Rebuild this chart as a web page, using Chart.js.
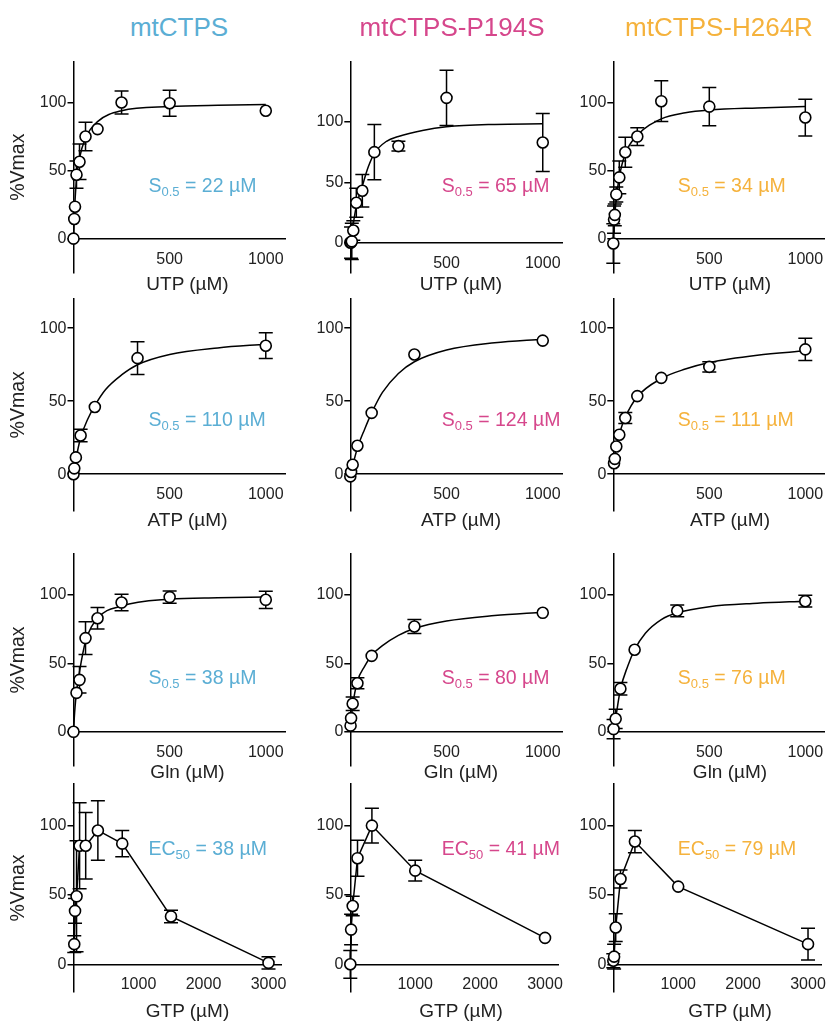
<!DOCTYPE html>
<html><head><meta charset="utf-8">
<script src="https://cdn.jsdelivr.net/npm/chart.js@4.4.1/dist/chart.umd.min.js"></script>
<style>
html,body{margin:0;padding:0;background:#fff;overflow:hidden;}
#wrap{position:relative;width:828px;height:1024px;overflow:hidden;font-family:'Liberation Sans',Arial,sans-serif;}
#wrap canvas{position:absolute;}
.ttl{position:absolute;font-size:26px;line-height:30px;white-space:nowrap;transform:translateX(-50%);}
.xt{position:absolute;font-size:19px;line-height:24px;white-space:nowrap;transform:translateX(-50%);color:#222;}
.ann{position:absolute;font-size:19.5px;line-height:24px;white-space:nowrap;}
.ann .sb{font-size:13px;position:relative;top:4px;}
</style></head><body><div id="wrap"></div>
<script>
// ---------- text ----------
const columnTitles = ['mtCTPS', 'mtCTPS-P194S', 'mtCTPS-H264R'];
const columnColors = ['#5BAED4', '#D6478C', '#F5B23C'];
const xAxisTitles = ['UTP (µM)', 'ATP (µM)', 'Gln (µM)', 'GTP (µM)'];
const yAxisTitle = '%Vmax';
const yTickValues = [0, 50, 100];
const xTicksSat = [500, 1000];
const xTicksGtp = [1000, 2000, 3000];
const annotMain = [['S', 'S', 'S'], ['S', 'S', 'S'], ['S', 'S', 'S'], ['EC', 'EC', 'EC']];
const annotSub = [['0.5', '0.5', '0.5'], ['0.5', '0.5', '0.5'], ['0.5', '0.5', '0.5'], ['50', '50', '50']];
const annotValue = [[22, 65, 34], [110, 124, 111], [38, 80, 76], [38, 41, 79]];

// ---------- data: UTP ----------
const utpWtX = [0, 3.9, 7.8, 15.6, 31.25, 62.5, 125, 250, 500, 1000];
const utpWtY = [0, 14.5, 23.5, 47, 56.5, 75, 80.5, 100, 99.5, 94];
const utpWtErr = [0, 0, 0, 10, 13, 10.5, 0, 8.5, 9.5, 0];
const utpWtFitX = [0, 4, 8, 16, 31, 62.5, 125, 250, 500, 750, 1000];
const utpWtFitY = [0, 16, 28, 44, 59, 74, 86, 94, 97, 98, 98.5];

const utpP194X = [0, 3.9, 7.8, 15.6, 31.25, 62.5, 125, 250, 500, 1000];
const utpP194Y = [0, 0, 1, 10, 33, 43, 75, 80, 120, 83];
const utpP194Err = [0, 13, 15, 8, 12, 13.5, 23, 4, 23, 24];
const utpP194FitX = [0, 8, 16, 31, 62.5, 94, 125, 188, 250, 375, 500, 750, 1000];
const utpP194FitY = [0, 7, 16, 30, 47, 63, 74, 84, 88, 93, 96, 98, 98.5];

const utpH264X = [0, 3.9, 7.8, 15.6, 31.25, 62.5, 125, 250, 500, 1000];
const utpH264Y = [-3.5, 14, 17.5, 32.5, 45, 63.5, 75, 101, 97, 89];
const utpH264Err = [14.5, 10, 8, 5.5, 12, 11, 6.5, 15, 14, 13.5];
const utpH264FitX = [0, 4, 8, 16, 31, 62.5, 125, 250, 375, 500, 750, 1000];
const utpH264FitY = [0, 10, 18, 30, 45, 62.5, 76, 88, 92.5, 94.5, 96, 97];

// ---------- data: ATP ----------
const atpWtX = [0, 4.1, 12.3, 37, 111, 333, 1000];
const atpWtY = [0, 4, 11.5, 26.5, 46, 79.5, 88];
const atpWtErr = [0, 0, 0, 4.3, 0, 11.2, 8.8];
const atpWtFitX = [0, 12.3, 37, 75, 111, 167, 250, 333, 500, 750, 1000];
const atpWtFitY = [0, 10, 25, 38, 47, 58, 68, 75, 82, 86.5, 89];

const atpP194X = [0, 4.1, 12.3, 37, 111, 333, 1000];
const atpP194Y = [-1.5, 1.5, 6.5, 19.5, 42, 82, 91.5];
const atpP194Err = [0, 0, 0, 0, 0, 0, 0];
const atpP194FitX = [0, 12.3, 37, 75, 111, 167, 250, 333, 500, 750, 1000];
const atpP194FitY = [0, 6, 18, 31, 42, 56, 69, 77, 85, 90, 92.5];

const atpH264X = [3.9, 7.8, 15.6, 31.25, 62.5, 125, 250, 500, 1000];
const atpH264Y = [7.5, 10.5, 19, 27, 38.5, 53.5, 66, 73.5, 85.5];
const atpH264Err = [0, 0, 0, 0, 3.7, 0, 0, 3.5, 7.7];
const atpH264FitX = [3.9, 15.6, 31.25, 62.5, 125, 250, 375, 500, 750, 1000];
const atpH264FitY = [7, 19, 27.5, 39, 53, 65.5, 72, 76.5, 81.5, 84.5];

// ---------- data: Gln ----------
const glnWtX = [0, 15.6, 31.25, 62.5, 125, 250, 500, 1000];
const glnWtY = [0, 28.5, 38, 68.5, 83, 94.5, 98.5, 96.5];
const glnWtErr = [0, 0, 9.7, 12, 7.9, 6, 4.5, 6.3];
const glnWtFitX = [0, 4, 8, 15.6, 31.25, 62.5, 125, 250, 500, 750, 1000];
const glnWtFitY = [0, 10, 18, 29, 44, 66, 83, 92, 97, 98, 98.5];

const glnP194X = [1.4, 4.1, 12.3, 37, 111, 333, 1000];
const glnP194Y = [4.5, 10, 20.5, 35.5, 55.5, 77, 87];
const glnP194Err = [0, 0, 5, 4, 0, 5.2, 0];
const glnP194FitX = [1.4, 4.1, 12.3, 37, 75, 111, 167, 250, 333, 500, 750, 1000];
const glnP194FitY = [3, 8, 19, 37, 48, 56, 63, 70.5, 75.5, 81, 85, 87.5];

const glnH264X = [1.4, 12.3, 37, 111, 333, 1000];
const glnH264Y = [2, 9.5, 31.5, 60, 88.5, 95.5];
const glnH264Err = [7, 7, 4.5, 0, 4.3, 4.3];
const glnH264FitX = [1.4, 12.3, 37, 75, 111, 167, 250, 333, 500, 750, 1000];
const glnH264FitY = [1, 10, 31, 48, 60, 72, 82, 87, 91.5, 94, 95.5];

// ---------- data: GTP (points joined by straight lines) ----------
const gtpWtX = [11.7, 23.4, 46.9, 93.75, 187.5, 375, 750, 1500, 3000];
const gtpWtY = [14.5, 38.5, 49, 85.5, 85.5, 96.5, 87, 34.5, 1];
const gtpWtErr = [6, 9, 40, 31, 24, 21.5, 9.5, 4.5, 4.5];

const gtpP194X = [0, 12.3, 37, 111, 333, 1000, 3000];
const gtpP194Y = [0, 25, 42, 76.5, 100, 67.5, 19];
const gtpP194Err = [10, 11, 7, 13, 12.5, 7.5, 0];

const gtpH264X = [0, 12.3, 37, 111, 333, 1000, 3000];
const gtpH264Y = [2.5, 5.5, 26.5, 61.5, 88.5, 56, 14.5];
const gtpH264Err = [5, 9, 10, 6.5, 8, 0, 11.5];

// ---------- layout (page pixels) ----------
const FONT = "'Liberation Sans', Arial, sans-serif";
const rowBox = [
  {top: 61.7, bottom: 272.7},
  {top: 299, bottom: 510.7},
  {top: 554, bottom: 766},
  {top: 784, bottom: 992}
];
const colLeft = [73.5, 350.3, 613.3];
const colCanvasLeft = [0, 290, 560];
const colRightSat = [285, 562, 824.5];
const colRightGtp = [281.5, 558, 821];
const titleCenterX = [179, 452, 719];
const xTitleCenterX = [187.5, 461, 730];
const xTitleCenterY = [283.5, 519.5, 772, 1011];
const annotLeft = [148.5, 441.7, 677.8];
const annotCenterY = [185, 419, 677, 847.5];

const yRanges = [
  [[-25, 130], [-25, 150], [-25, 130]],
  [[-25, 120], [-25, 120], [-25, 120]],
  [[-25, 130], [-25, 130], [-25, 130]],
  [[-20, 130], [-20, 130], [-20, 130]]
];

const panelData = [
  [[utpWtX, utpWtY, utpWtErr, utpWtFitX, utpWtFitY], [utpP194X, utpP194Y, utpP194Err, utpP194FitX, utpP194FitY], [utpH264X, utpH264Y, utpH264Err, utpH264FitX, utpH264FitY]],
  [[atpWtX, atpWtY, atpWtErr, atpWtFitX, atpWtFitY], [atpP194X, atpP194Y, atpP194Err, atpP194FitX, atpP194FitY], [atpH264X, atpH264Y, atpH264Err, atpH264FitX, atpH264FitY]],
  [[glnWtX, glnWtY, glnWtErr, glnWtFitX, glnWtFitY], [glnP194X, glnP194Y, glnP194Err, glnP194FitX, glnP194FitY], [glnH264X, glnH264Y, glnH264Err, glnH264FitX, glnH264FitY]],
  [[gtpWtX, gtpWtY, gtpWtErr], [gtpP194X, gtpP194Y, gtpP194Err], [gtpH264X, gtpH264Y, gtpH264Err]]
];

const errorBarPlugin = {
  id: 'errorBars',
  beforeDatasetsDraw(chart) {
    const {ctx} = chart;
    const xs = chart.scales.x, ys = chart.scales.y;
    chart.data.datasets.forEach(ds => {
      if (!ds.errors) return;
      ctx.save();
      ctx.strokeStyle = '#000';
      ctx.lineWidth = 1.5;
      ds.data.forEach((p, i) => {
        const e = ds.errors[i];
        if (!e) return;
        const px = xs.getPixelForValue(p.x);
        const yt = ys.getPixelForValue(p.y + e);
        const yb = ys.getPixelForValue(p.y - e);
        ctx.beginPath();
        ctx.moveTo(px, yt); ctx.lineTo(px, yb);
        ctx.moveTo(px - 7, yt); ctx.lineTo(px + 7, yt);
        ctx.moveTo(px - 7, yb); ctx.lineTo(px + 7, yb);
        ctx.stroke();
      });
      ctx.restore();
    });
  }
};

const wrap = document.getElementById('wrap');

function zip(xs, ys) { return xs.map((x, i) => ({x: x, y: ys[i]})); }

function makePanel(r, c) {
  const isGtp = r === 3;
  const box = rowBox[r];
  const left = colLeft[c];
  const right = isGtp ? colRightGtp[c] : colRightSat[c];
  const cl = colCanvasLeft[c];
  const ct = Math.floor(box.top) - 15;
  const w = Math.ceil(right + 22 - cl);
  const h = Math.ceil(box.bottom + 34 - ct);
  const cv = document.createElement('canvas');
  cv.width = w; cv.height = h;
  cv.style.left = cl + 'px'; cv.style.top = ct + 'px';
  wrap.appendChild(cv);
  const yW = left - cl;
  const d = panelData[r][c];
  const datasets = [{
    data: zip(d[0], d[1]),
    errors: d[2],
    pointRadius: 5.5,
    pointBackgroundColor: '#fff',
    pointBorderColor: '#000',
    pointBorderWidth: 1.6,
    showLine: isGtp,
    borderColor: '#000',
    borderWidth: 1.5,
    tension: 0,
    clip: false
  }];
  if (!isGtp) {
    datasets.push({
      data: zip(d[3], d[4]),
      showLine: true,
      pointRadius: 0,
      borderColor: '#000',
      borderWidth: 1.5,
      cubicInterpolationMode: 'monotone',
      clip: false
    });
  }
  const xTicks = isGtp ? xTicksGtp : xTicksSat;
  new Chart(cv, {
    type: 'scatter',
    data: {datasets: datasets},
    options: {
      responsive: false,
      animation: false,
      events: [],
      layout: {padding: {left: 0, top: box.top - ct, right: w - (right - cl), bottom: ct + h - box.bottom}},
      plugins: {legend: {display: false}, tooltip: {enabled: false}},
      scales: {
        x: {
          type: 'linear', position: {y: 0},
          min: 0, max: isGtp ? 3200 : 1100,
          afterBuildTicks: s => { s.ticks = xTicks.map(v => ({value: v})); },
          ticks: {callback: v => String(v), font: {family: FONT, size: 16}, color: '#222', padding: 11, maxRotation: 0, autoSkip: false},
          grid: {display: false, drawTicks: false},
          border: {display: true, color: '#000', width: 1.5},
          title: {display: false}
        },
        y: {
          type: 'linear', position: 'left',
          min: yRanges[r][c][0], max: yRanges[r][c][1],
          afterBuildTicks: s => { s.ticks = yTickValues.map(v => ({value: v})); },
          afterFit: s => { s.width = yW; },
          ticks: {callback: v => String(v), font: {family: FONT, size: 16}, color: '#222', padding: 1, autoSkip: false},
          grid: {drawOnChartArea: false, drawTicks: true, tickLength: 6, color: '#000', lineWidth: 1.5},
          border: {display: true, color: '#000', width: 1.5},
          title: {display: c === 0, text: yAxisTitle, font: {family: FONT, size: 19.5}, color: '#222', padding: {top: 7.3, bottom: 0}}
        }
      }
    },
    plugins: [errorBarPlugin]
  });
}

for (let r = 0; r < 4; r++) for (let c = 0; c < 3; c++) makePanel(r, c);

columnTitles.forEach((t, c) => {
  const el = document.createElement('div');
  el.className = 'ttl';
  el.textContent = t;
  el.style.color = columnColors[c];
  el.style.left = titleCenterX[c] + 'px';
  el.style.top = (27 - 15) + 'px';
  wrap.appendChild(el);
});

for (let r = 0; r < 4; r++) for (let c = 0; c < 3; c++) {
  const xt = document.createElement('div');
  xt.className = 'xt';
  xt.textContent = xAxisTitles[r];
  xt.style.left = xTitleCenterX[c] + 'px';
  xt.style.top = (xTitleCenterY[r] - 12) + 'px';
  wrap.appendChild(xt);

  const el = document.createElement('div');
  el.className = 'ann';
  el.style.color = columnColors[c];
  el.style.left = annotLeft[c] + 'px';
  el.style.top = (annotCenterY[r] - 12) + 'px';
  const m = document.createElement('span'); m.textContent = annotMain[r][c];
  const s = document.createElement('span'); s.className = 'sb'; s.textContent = annotSub[r][c];
  const v = document.createElement('span'); v.textContent = ' = ' + annotValue[r][c] + ' µM';
  el.appendChild(m); el.appendChild(s); el.appendChild(v);
  wrap.appendChild(el);
}
</script></body></html>
